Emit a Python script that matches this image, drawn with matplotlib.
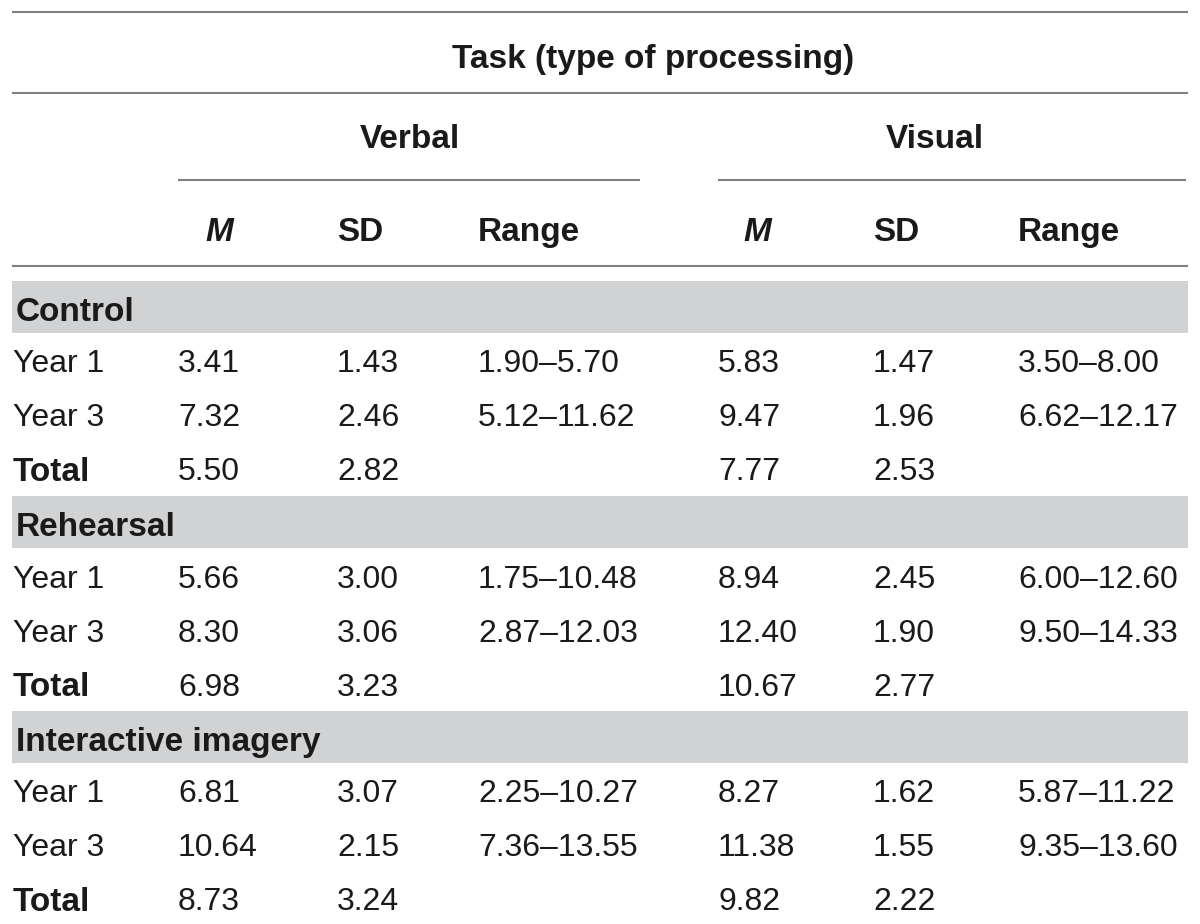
import matplotlib
matplotlib.use("Agg")
import matplotlib.pyplot as plt

plt.rcParams['font.family'] = ['Liberation Sans', 'DejaVu Sans']

title = "Task (type of processing)"
tasks = ["Verbal", "Visual"]
stat_headers = ["M", "SD", "Range"]
groups = ["Control", "Rehearsal", "Interactive imagery"]
row_labels = ["Year 1", "Year 3", "Total"]

verbal_m = [["3.41", "7.32", "5.50"], ["5.66", "8.30", "6.98"], ["6.81", "10.64", "8.73"]]
verbal_sd = [["1.43", "2.46", "2.82"], ["3.00", "3.06", "3.23"], ["3.07", "2.15", "3.24"]]
verbal_range = [["1.90–5.70", "5.12–11.62", ""], ["1.75–10.48", "2.87–12.03", ""], ["2.25–10.27", "7.36–13.55", ""]]
visual_m = [["5.83", "9.47", "7.77"], ["8.94", "12.40", "10.67"], ["8.27", "11.38", "9.82"]]
visual_sd = [["1.47", "1.96", "2.53"], ["2.45", "1.90", "2.77"], ["1.62", "1.55", "2.22"]]
visual_range = [["3.50–8.00", "6.62–12.17", ""], ["6.00–12.60", "9.50–14.33", ""], ["5.87–11.22", "9.35–13.60", ""]]

W, H = 1200, 924
fig = plt.figure(figsize=(12, 9.24), dpi=100)
ax = fig.add_axes([0, 0, 1, 1])
ax.set_xlim(0, W)
ax.set_ylim(H, 0)
ax.axis("off")

TXT = "#1a1a1a"
LINE = "#7f7f7f"
BAND = "#d1d2d4"
FS_BOLD = 24
FS_REG = 23

def hline(y, x0, x1):
    ax.plot([x0, x1], [y, y], color=LINE, lw=1.5, solid_capstyle="butt")

def txt(x, y, s, ha="left", bold=False, italic=False):
    ax.text(x, y, s, ha=ha, va="center_baseline",
            fontsize=FS_BOLD if bold else FS_REG, color=TXT,
            fontweight="bold" if bold else "normal",
            fontstyle="italic" if italic else "normal")

# header
hline(12, 12, 1188)
txt(653, 56, title, ha="center", bold=True)
hline(93, 12, 1188)
task_centers = [410, 935]
for t, c in zip(tasks, task_centers):
    txt(c, 136, t, ha="center", bold=True)
hline(180, 178, 640)
hline(180, 718, 1186)

col_x = [178, 337, 478, 718, 873, 1018]
header_x = [205, 337, 478, 743, 873, 1018]
for i, hx in enumerate(header_x):
    s = stat_headers[i % 3]
    txt(hx, 229, s, bold=True, italic=(s == "M"))
hline(266, 12, 1188)

band_tops = [281, 496, 711]
band_h = 52
row_step = 54
cols = [verbal_m, verbal_sd, verbal_range, visual_m, visual_sd, visual_range]
for g, (name, top) in enumerate(zip(groups, band_tops)):
    ax.add_patch(plt.Rectangle((12, top), 1176, band_h, color=BAND, lw=0))
    txt(16, top + band_h / 2 + 2, name, bold=True)
    for r, lab in enumerate(row_labels):
        y = top + band_h + 28 + r * row_step
        txt(13, y, lab, bold=(lab == "Total"))
        for cx, col in zip(col_x, cols):
            txt(cx, y, col[g][r])

fig.savefig("out.png", dpi=100)
